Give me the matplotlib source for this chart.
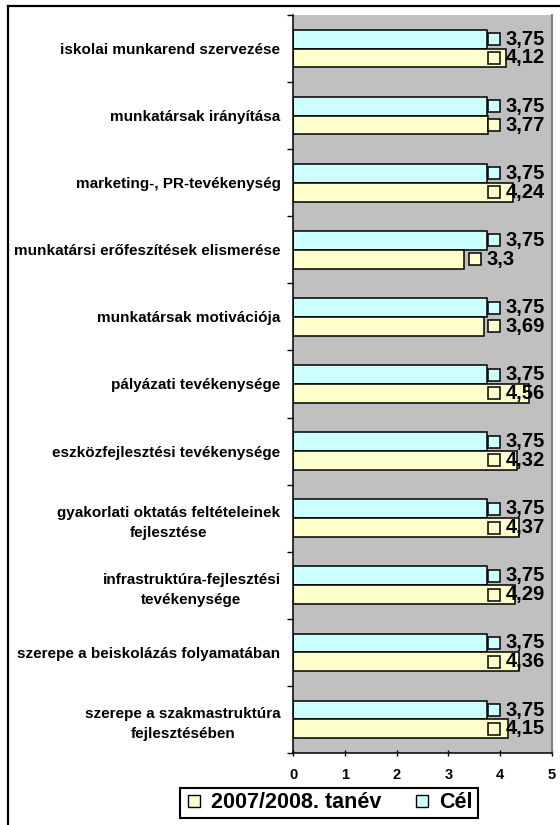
import matplotlib
matplotlib.use('Agg')
import matplotlib.pyplot as plt
from matplotlib.lines import Line2D
import numpy as np

plt.rcParams['font.family'] = ['Liberation Sans', 'DejaVu Sans']
plt.rcParams['font.weight'] = 'bold'

# ── Data ─────────────────────────────────────────────────────────────────────
categories = [
    'iskolai munkarend szervezése',
    'munkatársak irányítása',
    'marketing-, PR-tevékenység',
    'munkatársi erőfeszítések elismerése',
    'munkatársak motivációja',
    'pályázati tevékenysége',
    'eszközfejlesztési tevékenysége',
    'gyakorlati oktatás feltételeinek\nfejlesztése',
    'infrastruktúra-fejlesztési\ntevékenysége',
    'szerepe a beiskolázás folyamatában',
    'szerepe a szakmastruktúra\nfejlesztésében',
]
cel = [3.75, 3.75, 3.75, 3.75, 3.75, 3.75, 3.75, 3.75, 3.75, 3.75, 3.75]
tanev = [4.12, 3.77, 4.24, 3.3, 3.69, 4.56, 4.32, 4.37, 4.29, 4.36, 4.15]
series_names = ['2007/2008. tanév', 'Cél']

# ── Style ────────────────────────────────────────────────────────────────────
CYAN = '#CCFFFF'
YELL = '#FFFFCC'
GRAY = '#C0C0C0'
BAR_H = 0.28

fig = plt.figure(figsize=(5.6, 8.25), dpi=100)
ax = fig.add_axes([293 / 560, 72 / 825, 259 / 560, 738 / 825])
ax.set_facecolor(GRAY)

y = np.arange(len(categories))
ax.barh(y - BAR_H / 2, cel, height=BAR_H, color=CYAN, edgecolor='black',
        linewidth=1.1, zorder=2)
ax.barh(y + BAR_H / 2, tanev, height=BAR_H, color=YELL, edgecolor='black',
        linewidth=1.1, zorder=2)


def fmt(v):
    return ('%g' % v).replace('.', ',')


# data labels with legend key
for vals, off, col in [(cel, -BAR_H / 2, CYAN), (tanev, BAR_H / 2, YELL)]:
    for i, v in enumerate(vals):
        sx = min(v + 0.22, 3.88)
        ax.plot([sx], [i + off], marker='s', ms=8, mfc=col, mec='black',
                mew=1.1, zorder=4, clip_on=False)
        ax.text(sx + 0.22, i + off, fmt(v), fontsize=14.5, fontweight='bold',
                ha='left', va='center', zorder=5)

ax.set_xlim(0, 5)
ax.set_ylim(len(categories) - 0.5, -0.5)
ax.set_xticks(range(6))
ax.tick_params(axis='x', direction='inout', length=5, width=1, pad=8,
               labelsize=10.5)
for lbl in ax.get_xticklabels():
    lbl.set_fontweight('bold')

ax.set_yticks(y)
ax.set_yticklabels(categories, fontsize=11, fontweight='bold',
                   multialignment='center', linespacing=1.55)
ax.tick_params(axis='y', which='major', length=0, pad=9)
ax.set_yticks(np.arange(-0.5, len(categories)), minor=True)
ax.tick_params(axis='y', which='minor', direction='out', length=4, width=1)

ax.spines['top'].set_visible(False)
ax.spines['right'].set_color('#808080')
ax.spines['right'].set_linewidth(1.5)
ax.spines['left'].set_linewidth(1.1)
ax.spines['bottom'].set_linewidth(1.1)

# ── Legend ───────────────────────────────────────────────────────────────────
handles = [
    Line2D([], [], ls='none', marker='s', ms=9, mfc=YELL, mec='black', mew=1),
    Line2D([], [], ls='none', marker='s', ms=9, mfc=CYAN, mec='black', mew=1),
]
leg = fig.legend(handles, series_names, loc='center',
                 bbox_to_anchor=(329 / 560, 22 / 825), ncol=2,
                 fancybox=False, framealpha=1, edgecolor='black',
                 prop={'size': 15.5, 'weight': 'bold'},
                 handlelength=0.8, handletextpad=0.4, columnspacing=1.5,
                 borderpad=0.22, borderaxespad=0)
leg.get_frame().set_linewidth(1.5)

# ── Outer frame ──────────────────────────────────────────────────────────────
fig.add_artist(Line2D([8 / 560, 8 / 560], [0, 1 - 6 / 825], color='black',
                      lw=1.6, transform=fig.transFigure))
fig.add_artist(Line2D([8 / 560, 1], [1 - 6 / 825, 1 - 6 / 825], color='black',
                      lw=1.6, transform=fig.transFigure))

fig.savefig('out.png', dpi=100, facecolor='white')
